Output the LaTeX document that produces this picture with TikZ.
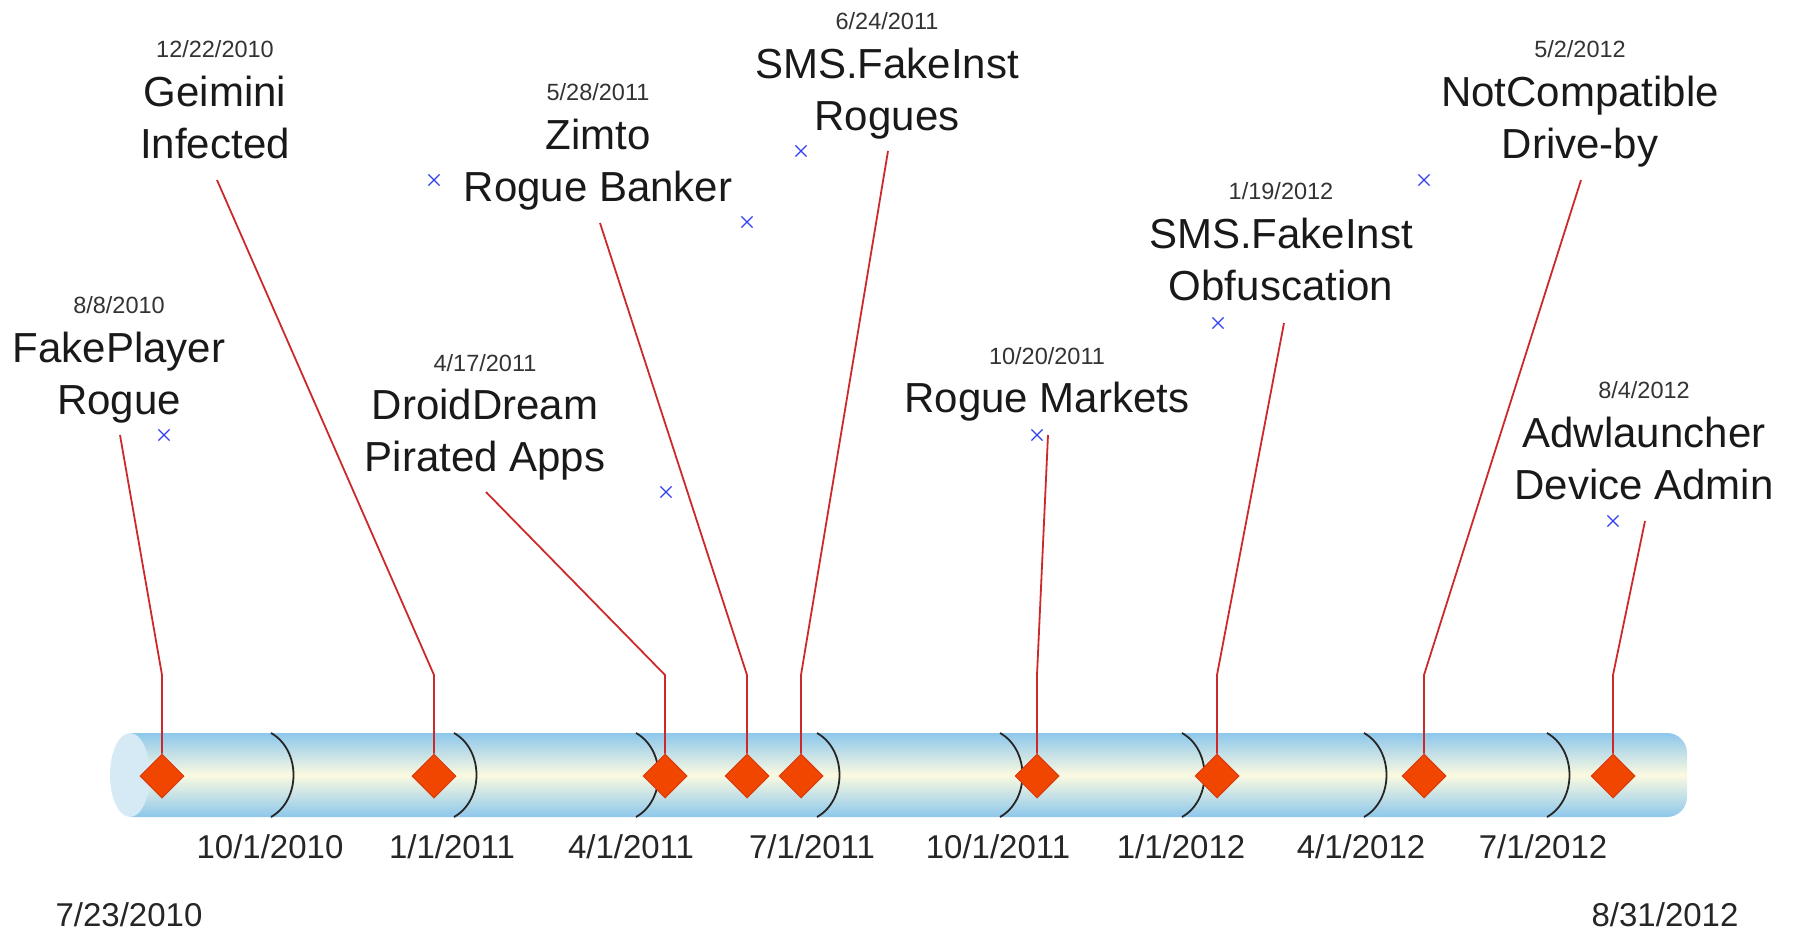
\documentclass[tikz,border=0pt]{standalone}
\usepackage{fontspec}
\setmainfont{Liberation Sans}
\usetikzlibrary{shapes.geometric,shapes.misc}
\definecolor{tubeblue}{HTML}{8DC7EC}
\definecolor{tubecream}{HTML}{FBFAE0}
\definecolor{tubecap}{HTML}{D6EAF6}
\definecolor{markfill}{HTML}{F04600}
\definecolor{markedge}{HTML}{D83A10}
\definecolor{conncol}{HTML}{CC2A2A}
\definecolor{crosscol}{HTML}{3040F0}

\begin{document}
\begin{tikzpicture}[x=1pt,y=-1pt,
  event/.style={diamond, fill=markfill, draw=markedge, line width=1pt, inner sep=0pt, minimum size=44pt},
  conn/.style={draw=conncol, line width=1.8pt},
  title/.style={align=center, font=\fontsize{42}{51.5}\selectfont, text=black!90, inner sep=0pt,
    execute at begin node=\strut, execute at end node=\strut},
  datelbl/.style={font=\fontsize{23.5}{28}\selectfont, text=black!80, inner sep=0pt},
  axislbl/.style={font=\fontsize{33}{40}\selectfont, text=black!85, inner sep=0pt},
  tickarc/.style={draw=black!85, line width=1.8pt},
  cross/.style={cross out, draw=crosscol, line width=1.2pt, minimum size=10pt, inner sep=0pt}]

\useasboundingbox (0,0) rectangle (1794,931);

% tube body and its open end
\shade[top color=tubeblue, bottom color=tubeblue, middle color=tubecream]
  (130,733) [rounded corners=20pt] -- (1687,733) -- (1687,817) [sharp corners] -- (130,817) -- cycle;
\fill[tubecap] (130,775) ellipse [x radius=20pt, y radius=42pt];

% quarter separators
\foreach \x in {271,454,636,817,1000,1182,1364,1547}
  \draw[tickarc] (\x,733) .. controls (\x+30,750) and (\x+30,800) .. (\x,817);

% axis labels
\node[axislbl] (q1) at (270,847) {10/1/2010};
\node[axislbl] (q2) at (452,847) {1/1/2011};
\node[axislbl] (q3) at (631,847) {4/1/2011};
\node[axislbl] (q4) at (812,847) {7/1/2011};
\node[axislbl] (q5) at (998,847) {10/1/2011};
\node[axislbl] (q6) at (1181,847) {1/1/2012};
\node[axislbl] (q7) at (1361,847) {4/1/2012};
\node[axislbl] (q8) at (1543,847) {7/1/2012};
\node[axislbl] (start) at (129,915) {7/23/2010};
\node[axislbl] (finish) at (1665,915) {8/31/2012};

% events on the tube
\node[event] (d1) at (162,776) {};
\node[event] (d2) at (434,776) {};
\node[event] (d3) at (665,776) {};
\node[event] (d4) at (747,776) {};
\node[event] (d5) at (801,776) {};
\node[event] (d6) at (1037,776) {};
\node[event] (d7) at (1217,776) {};
\node[event] (d8) at (1424,776) {};
\node[event] (d9) at (1613,776) {};

% leader bends and ends
\foreach \i/\x in {1/162,2/434,3/665,4/747,5/801,6/1037,7/1217,8/1424,9/1613}
  \coordinate (b\i) at (\x,675);
\coordinate (e1) at (120,435);
\coordinate (e2) at (217,180);
\coordinate (e3) at (486,492);
\coordinate (e4) at (600,223);
\coordinate (e5) at (888,151);
\coordinate (e6) at (1048,435);
\coordinate (e7) at (1284,323);
\coordinate (e8) at (1581,180);
\coordinate (e9) at (1645,521);

\foreach \i in {1,...,9}
  \draw[conn] (d\i.north) -- (b\i) -- (e\i);

% small anchor crosses
\node[cross] (x1) at (164,435) {};
\node[cross] (x2) at (434,180) {};
\node[cross] (x3) at (666,492) {};
\node[cross] (x4) at (747,222) {};
\node[cross] (x5) at (801,151) {};
\node[cross] (x6) at (1037,435) {};
\node[cross] (x7) at (1218,323) {};
\node[cross] (x8) at (1424,180) {};
\node[cross] (x9) at (1613,521) {};

% event titles and dates
\node[datelbl] (dt1) at (119,305) {8/8/2010};
\node[title] (t1) at (119,381) {FakePlayer\\Rogue};
\node[datelbl] (dt2) at (215,49) {12/22/2010};
\node[title] (t2) at (215,125) {Geimini\\Infected};
\node[datelbl] (dt3) at (485,363) {4/17/2011};
\node[title] (t3) at (485,438) {DroidDream\\Pirated Apps};
\node[datelbl] (dt4) at (598,92) {5/28/2011};
\node[title] (t4) at (598,168) {Zimto\\Rogue Banker};
\node[datelbl] (dt5) at (887,21) {6/24/2011};
\node[title] (t5) at (887,97) {SMS.FakeInst\\Rogues};
\node[datelbl] (dt6) at (1047,356) {10/20/2011};
\node[title] (t6) at (1047,402) {Rogue Markets};
\node[datelbl] (dt7) at (1281,191) {1/19/2012};
\node[title] (t7) at (1281,267) {SMS.FakeInst\\Obfuscation};
\node[datelbl] (dt8) at (1580,49) {5/2/2012};
\node[title] (t8) at (1580,125) {NotCompatible\\Drive-by};
\node[datelbl] (dt9) at (1644,390) {8/4/2012};
\node[title] (t9) at (1644,466) {Adwlauncher\\Device Admin};
\end{tikzpicture}
\end{document}
